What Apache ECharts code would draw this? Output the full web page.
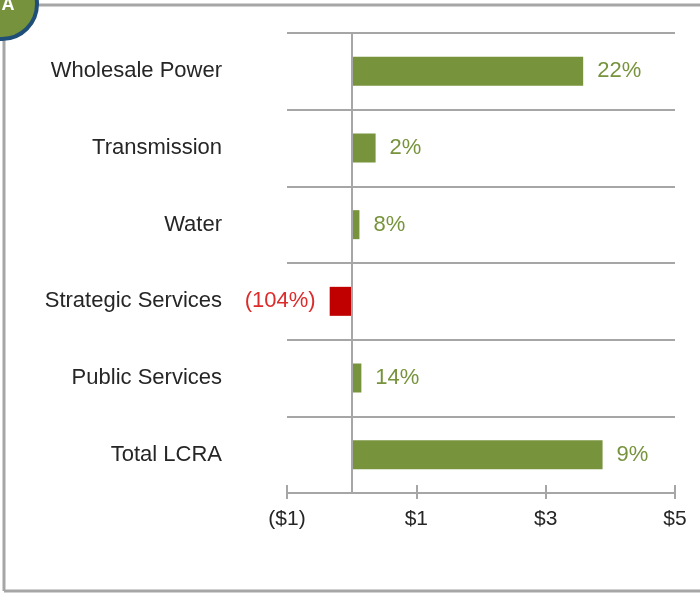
<!DOCTYPE html>
<html>
<head>
<meta charset="utf-8">
<script src="https://cdn.jsdelivr.net/npm/echarts@6/dist/echarts.min.js"></script>
<style>
  html, body { margin: 0; padding: 0; background: #fff; }
  #main { width: 700px; height: 593px; }
</style>
</head>
<body>
<div id="main"></div>
<script>
// data
var categories = ['Wholesale Power', 'Transmission', 'Water', 'Strategic Services', 'Public Services', 'Total LCRA'];
var values = [3.58, 0.37, 0.12, -0.34, 0.15, 3.88];
var changeLabels = ['22%', '2%', '8%', '(104%)', '14%', '9%'];
var tickValues = [-1, 1, 3, 5];

var green = '#77933c';
var red = '#c00000';
var gray = '#a6a6a6';

var myChart = echarts.init(document.getElementById('main'));

var barData = values.map(function (v, i) {
    var neg = v < 0;
    return {
        value: v,
        itemStyle: { color: neg ? red : green },
        label: {
            position: neg ? 'left' : 'right',
            distance: 14,
            color: neg ? '#dc2b2b' : green,
            formatter: changeLabels[i]
        }
    };
});

var option = {
    animation: false,
    grid: { left: 287, right: 25, top: 33, bottom: 100 },
    xAxis: [{
        type: 'value',
        min: -1,
        max: 5,
        interval: 2,
        axisLine: { show: true, lineStyle: { color: gray, width: 2 } },
        axisTick: { show: true, length: 6, lineStyle: { color: gray, width: 2 } },
        splitLine: { show: false },
        axisLabel: {
            margin: 16,
            fontSize: 21,
            fontFamily: 'Liberation Sans, Arial, sans-serif',
            color: '#262626',
            formatter: function (v) {
                if (tickValues.indexOf(v) < 0) return '';
                return v < 0 ? '($' + (-v) + ')' : '$' + v;
            }
        }
    }, {
        // second axis only for the tick part above the axis line
        type: 'value',
        position: 'bottom',
        min: -1,
        max: 5,
        interval: 2,
        axisLine: { show: false },
        axisTick: { show: true, inside: true, length: 8, lineStyle: { color: gray, width: 2 } },
        axisLabel: { show: false },
        splitLine: { show: false }
    }],
    yAxis: {
        type: 'category',
        inverse: true,
        data: categories,
        axisLine: { show: false, onZero: false },
        axisTick: { show: false },
        splitLine: { show: true, lineStyle: { color: gray, width: 2 } },
        axisLabel: {
            margin: 65,
            fontSize: 22,
            fontFamily: 'Liberation Sans, Arial, sans-serif',
            color: '#262626'
        }
    },
    series: [{
        type: 'bar',
        barWidth: 29,
        data: barData,
        label: {
            show: true,
            fontSize: 22,
            fontFamily: 'Liberation Sans, Arial, sans-serif'
        },
        markLine: {
            silent: true,
            symbol: 'none',
            label: { show: false },
            lineStyle: { color: gray, width: 2, type: 'solid' },
            data: [{ xAxis: 0 }]
        }
    }],
    graphic: [
        { type: 'line', shape: { x1: 30, y1: 5, x2: 700, y2: 5 }, style: { stroke: gray, lineWidth: 3 } },
        { type: 'line', shape: { x1: 4, y1: 30, x2: 4, y2: 591 }, style: { stroke: gray, lineWidth: 3 } },
        { type: 'line', shape: { x1: 4, y1: 591, x2: 700, y2: 591 }, style: { stroke: gray, lineWidth: 3 } },
        {
            type: 'circle',
            shape: { cx: 2, cy: 4, r: 35 },
            style: { fill: '#76923c', stroke: '#1f4e79', lineWidth: 4 },
            z: 10
        },
        {
            type: 'text',
            x: 8, y: 5,
            style: {
                text: 'A',
                fill: '#fff',
                font: 'bold 18px Liberation Sans, Arial, sans-serif',
                align: 'center',
                verticalAlign: 'middle'
            },
            z: 11
        }
    ]
};

myChart.setOption(option);
</script>
</body>
</html>
